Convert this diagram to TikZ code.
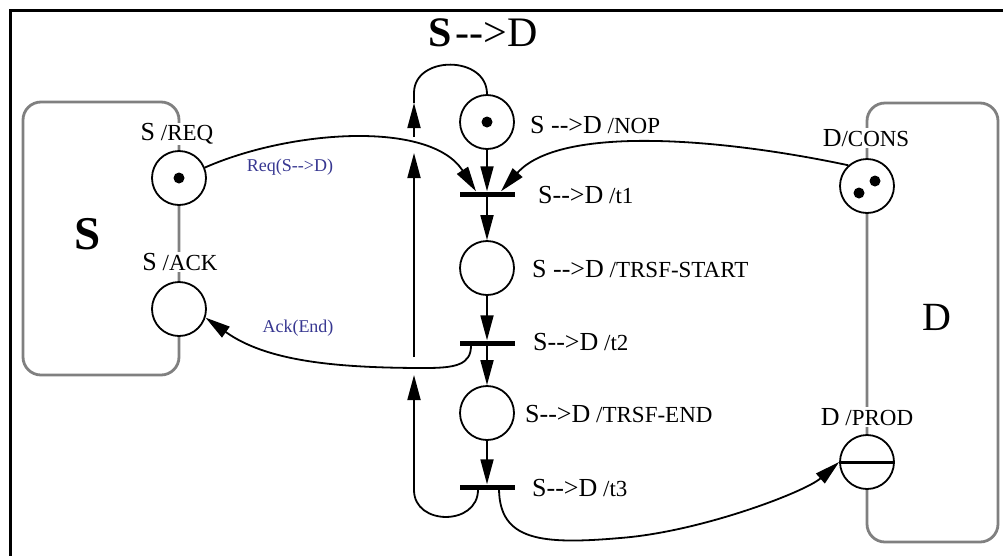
\documentclass[tikz,border=0pt]{standalone}
\usepackage{fontspec}
\setmainfont{Liberation Serif}
\usetikzlibrary{arrows.meta}
\definecolor{lblue}{RGB}{55,55,145}
\definecolor{boxgray}{RGB}{128,128,128}
\newcommand\arrowtxt{-\kern0pt-\kern0pt>}
\newcommand\bigL[1]{{\fontsize{26}{26}\selectfont #1}}
\begin{document}
\begin{tikzpicture}[x=1pt,y=-1pt,
  place/.style={circle,draw,line width=1.8pt,fill=white,minimum size=54pt,inner sep=0pt},
  trans/.style={rectangle,fill=black,minimum width=55pt,minimum height=5pt,inner sep=0pt},
  arc/.style={line width=1.8pt,-{Triangle[length=25pt,width=13pt]}},
  plain/.style={line width=1.8pt},
  lab/.style={font=\fontsize{23}{23}\selectfont,inner sep=0pt,anchor=west},
  plab/.style={font=\fontsize{23}{23}\selectfont,inner sep=1pt,fill=white},
  msg/.style={font=\fontsize{18}{18}\selectfont,text=lblue,inner sep=0pt},
  token/.style={circle,fill=black,inner sep=0pt,minimum size=11pt},
  grp/.style={draw=boxgray,line width=2.8pt,rounded corners=18pt}
]
\useasboundingbox (0,0) rectangle (1003,555);
\fill[white] (0,0) rectangle (1003,555);
\draw[line width=3pt] (1010,10.5) -- (10.5,10.5) -- (10.5,565);

% group boxes
\draw[grp] (23,102) rectangle (179,375);
\draw[grp] (867,103) rectangle (998,542);

% places and transitions
\node[place] (nop) at (487,122) {};
\node[token] (nopT) at (nop.center) {};
\node[trans] (t1) at (487,194) {};
\node[place] (start) at (487,268) {};
\node[trans] (t2) at (487,343) {};
\node[place] (endp) at (487,413) {};
\node[trans] (t3) at (487,487) {};
\node[place] (req) at (179,178) {};
\node[token] (reqT) at (req.center) {};
\node[place] (ack) at (179,309) {};
\node[place] (cons) at (867,186) {};
\node[token] (consT1) at (859,193) {};
\node[token] (consT2) at (875,181) {};
\node[place] (prod) at (867,462) {};
\draw[line width=3pt] (prod.west) -- (prod.east);

% labels
\node[lab] (lnop) at (530,125) {\bigL{S \arrowtxt D} /NOP};
\node[lab] (lt1) at (538,195) {\bigL{S\arrowtxt D} /t1};
\node[lab] (lstart) at (532,269) {\bigL{S \arrowtxt D} /TRSF-START};
\node[lab] (lt2) at (533,342) {\bigL{S\arrowtxt D} /t2};
\node[lab] (lend) at (525,414) {\bigL{S\arrowtxt D} /TRSF-END};
\node[lab] (lt3) at (532,488) {\bigL{S\arrowtxt D} /t3};
\node[plab] (lreq) at (177,134) {\bigL{S} /REQ};
\node[plab] (lack) at (180,262) {\bigL{S} /ACK};
\node[plab] (lcons) at (866,138) {\bigL{D}/CONS};
\node[plab] (lprod) at (867,417) {\bigL{D} /PROD};
\node[msg] (mreq) at (290,167) {Req(S\arrowtxt D)};
\node[msg] (mack) at (298,328) {Ack(End)};
\node[font=\fontsize{42}{42}\selectfont,inner sep=0pt] (title) at (483,33) {\textbf{S}\kern4pt\arrowtxt D};
\node[font=\bfseries\fontsize{47}{47}\selectfont,inner sep=0pt] (bigS) at (88,234) {S};
\node[font=\fontsize{40}{40}\selectfont,inner sep=0pt] (bigD) at (937,317) {D};

% connectors
\draw[arc] (nop) -- (t1);
\draw[arc] (t1) -- (start);
\draw[arc] (start) -- (t2);
\draw[arc] (t2) -- (endp);
\draw[arc] (endp) -- (t3);
\draw[arc] (req.22) .. controls (290,130) and (430,120) .. ([xshift=-11pt]t1.north);
\draw[arc] (cons.132) .. controls (720,138) and (560,125) .. ([xshift=14pt]t1.north);
\draw[arc] ([xshift=-16pt]t2.south) .. controls (471,365) and (455,368) .. (425,368)
   .. controls (330,368) and (265,360) .. (ack.-18);
\draw[arc] ([xshift=12pt]t3.south) .. controls (500,540) and (540,545) .. (620,538)
   .. controls (700,532) and (805,492) .. (prod.west);

% loop from t3 back to NOP
\coordinate (uA) at (414,375);
\coordinate (uB0) at (414,357);
\coordinate (uB) at (414,153);
\coordinate (uC0) at (414,137);
\coordinate (uC) at (414,103);
\draw[arc] ([xshift=-9pt]t3.south) .. controls (478,526) and (414,526) .. (414,490) -- (uA);
\draw[arc] (uB0) -- (uB);
\draw[arc] (uC0) -- (uC);
\draw[plain] (uC) -- (414,93) .. controls (414,55) and (487,55) .. (nop.north);
\end{tikzpicture}
\end{document}
